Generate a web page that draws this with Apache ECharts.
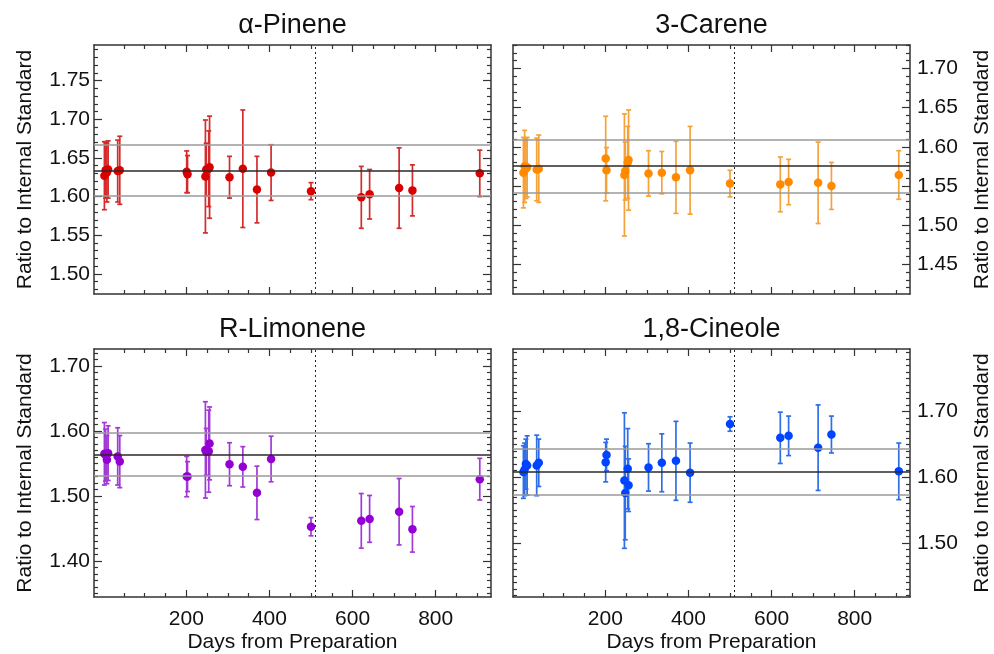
<!DOCTYPE html>
<html><head><meta charset="utf-8">
<script src="https://cdn.jsdelivr.net/npm/echarts@6/dist/echarts.min.js"></script>
<style>html,body{margin:0;padding:0;background:#fff}#c{width:994px;height:654px}</style>
</head><body><div id="c"></div>
<script>
// ---- data (days from preparation, shared by all compounds) ----
const days = [3, 6, 9, 12, 35, 40, 201, 203, 246, 248, 254, 256, 304, 336, 370, 404, 500, 621, 641, 712, 744, 906];

const pineneVal = [1.627, 1.634, 1.631, 1.635, 1.633, 1.634, 1.632, 1.629, 1.626, 1.635, 1.636, 1.638, 1.625, 1.636, 1.609, 1.631, 1.607, 1.599, 1.603, 1.611, 1.608, 1.630];
const pineneErr = [0.044, 0.036, 0.038, 0.037, 0.040, 0.044, 0.027, 0.024, 0.073, 0.034, 0.049, 0.066, 0.027, 0.076, 0.043, 0.036, 0.011, 0.040, 0.032, 0.052, 0.033, 0.030];

const careneVal = [1.567, 1.575, 1.572, 1.574, 1.571, 1.572, 1.585, 1.570, 1.564, 1.569, 1.580, 1.583, 1.566, 1.567, 1.561, 1.570, 1.553, 1.552, 1.555, 1.554, 1.550, 1.564];
const careneErr = [0.045, 0.046, 0.038, 0.038, 0.040, 0.043, 0.054, 0.029, 0.078, 0.037, 0.046, 0.064, 0.029, 0.027, 0.046, 0.056, 0.017, 0.035, 0.029, 0.052, 0.030, 0.031];

const limoneneVal = [1.565, 1.563, 1.556, 1.566, 1.561, 1.553, 1.530, 1.530, 1.571, 1.568, 1.569, 1.581, 1.549, 1.545, 1.505, 1.557, 1.453, 1.462, 1.465, 1.476, 1.449, 1.526];
const limoneneErr = [0.048, 0.040, 0.037, 0.042, 0.044, 0.040, 0.031, 0.023, 0.074, 0.036, 0.063, 0.056, 0.033, 0.031, 0.041, 0.035, 0.014, 0.042, 0.036, 0.051, 0.035, 0.032];

const cineoleVal = [1.608, 1.612, 1.620, 1.618, 1.618, 1.622, 1.623, 1.634, 1.595, 1.576, 1.613, 1.588, 1.615, 1.622, 1.625, 1.607, 1.681, 1.660, 1.663, 1.645, 1.665, 1.609];
const cineoleErr = [0.040, 0.040, 0.038, 0.045, 0.046, 0.036, 0.030, 0.024, 0.103, 0.071, 0.061, 0.040, 0.036, 0.044, 0.060, 0.045, 0.011, 0.039, 0.030, 0.065, 0.028, 0.043];

// mean and +/- band per compound
const means = [1.634, 1.5755, 1.564, 1.608];
const bands = [0.033, 0.034, 0.033, 0.035];
const markerDay = 510;

// tick labels / tick values
const xMajorTicks = [200, 400, 600, 800];
const xMinorTicks = [50, 100, 150, 250, 300, 350, 450, 500, 550, 650, 700, 750, 850, 900];
const yMajorPinene = [1.50, 1.55, 1.60, 1.65, 1.70, 1.75];
const yMajorCarene = [1.45, 1.50, 1.55, 1.60, 1.65, 1.70];
const yMajorLimonene = [1.40, 1.50, 1.60, 1.70];
const yMajorCineole = [1.50, 1.60, 1.70];
const titles = ['\u03b1-Pinene', '3-Carene', 'R-Limonene', '1,8-Cineole'];

// ---- layout / style ----
const FONT = "'Liberation Sans', Arial, Helvetica, sans-serif";
const TXT = '#111';
const AX = '#333';
const panels = [
  {val: pineneVal, err: pineneErr, yMin: 1.474, yMax: 1.796, yMajor: yMajorPinene, side: 'left', bottom: false, left: 94, top: 45, h: 249, dot: '#d90000', bar: '#d42c2c'},
  {val: careneVal, err: careneErr, yMin: 1.412, yMax: 1.730, yMajor: yMajorCarene, side: 'right', bottom: false, left: 513, top: 45, h: 249, dot: '#ff8a00', bar: '#f5a23a'},
  {val: limoneneVal, err: limoneneErr, yMin: 1.345, yMax: 1.726, yMajor: yMajorLimonene, side: 'left', bottom: true, left: 94, top: 349, h: 248, dot: '#9400d3', bar: '#a23ad6'},
  {val: cineoleVal, err: cineoleErr, yMin: 1.418, yMax: 1.795, yMajor: yMajorCineole, side: 'right', bottom: true, left: 513, top: 349, h: 248, dot: '#0044ff', bar: '#2f6ee6'}
];
const W = 397;
const X_MIN = -22, X_MAX = 933;

function minorVals(min, max, step, majors) {
  const out = [];
  for (let k = Math.ceil(min / step - 1e-9); k * step <= max + 1e-9; k++) {
    const v = +(k * step).toFixed(4);
    if (!majors.some(m => Math.abs(m - v) < 1e-6)) out.push(v);
  }
  return out;
}

const grid = [], xAxis = [], yAxis = [], series = [], title = [];
panels.forEach((p, gi) => {
  grid.push({left: p.left, top: p.top, width: W, height: p.h, containLabel: false});
  title.push({text: titles[gi], left: p.left + W / 2, top: p.top - 33, textAlign: 'center', padding: 0,
    textStyle: {fontFamily: FONT, fontSize: 27, fontWeight: 'normal', color: TXT}});
  const lineStyle = {color: AX, width: 1.5};
  const tickStyle = {color: AX, width: 1.2};
  const baseX = {type: 'value', gridIndex: gi, min: X_MIN, max: X_MAX, splitLine: {show: false}};
  // bottom major
  xAxis.push(Object.assign({}, baseX, {position: 'bottom',
    axisLine: {show: true, onZero: false, lineStyle},
    axisTick: {show: true, inside: true, length: 7, customValues: xMajorTicks, lineStyle: tickStyle},
    axisLabel: {show: p.bottom, customValues: xMajorTicks, fontFamily: FONT, fontSize: 21, color: TXT, margin: 12},
    name: p.bottom ? 'Days from Preparation' : '', nameLocation: 'middle', nameGap: 35,
    nameTextStyle: {fontFamily: FONT, fontSize: 21, color: TXT}}));
  // bottom minor
  xAxis.push(Object.assign({}, baseX, {position: 'bottom', axisLine: {show: false, onZero: false},
    axisTick: {show: true, inside: true, length: 4, customValues: xMinorTicks, lineStyle: tickStyle},
    axisLabel: {show: false}}));
  // top major
  xAxis.push(Object.assign({}, baseX, {position: 'top', axisLine: {show: true, onZero: false, lineStyle},
    axisTick: {show: true, inside: true, length: 7, customValues: xMajorTicks, lineStyle: tickStyle},
    axisLabel: {show: false}}));
  // top minor
  xAxis.push(Object.assign({}, baseX, {position: 'top', axisLine: {show: false, onZero: false},
    axisTick: {show: true, inside: true, length: 4, customValues: xMinorTicks, lineStyle: tickStyle},
    axisLabel: {show: false}}));

  const yMinor = minorVals(p.yMin, p.yMax, 0.01, p.yMajor);
  const baseY = {type: 'value', gridIndex: gi, min: p.yMin, max: p.yMax, splitLine: {show: false}};
  ['left', 'right'].forEach(pos => {
    const isLab = pos === p.side;
    yAxis.push(Object.assign({}, baseY, {position: pos,
      axisLine: {show: true, onZero: false, lineStyle},
      axisTick: {show: true, inside: true, length: 8, customValues: p.yMajor, lineStyle: tickStyle},
      axisLabel: {show: isLab, customValues: p.yMajor, formatter: v => (+v).toFixed(2),
        fontFamily: FONT, fontSize: 21, color: TXT, margin: pos === 'left' ? 4 : 7},
      name: isLab ? 'Ratio to Internal Standard' : '', nameLocation: 'middle', nameRotate: 90,
      nameGap: pos === 'left' ? 58 : 62,
      nameTextStyle: {fontFamily: FONT, fontSize: 21, color: TXT}}));
    yAxis.push(Object.assign({}, baseY, {position: pos, axisLine: {show: false, onZero: false},
      axisTick: {show: true, inside: true, length: 4, customValues: yMinor, lineStyle: tickStyle},
      axisLabel: {show: false}}));
  });
  const xi = gi * 4, yi = gi * 4;
  // reference lines
  series.push({type: 'scatter', xAxisIndex: xi, yAxisIndex: yi, z: 1, silent: true, symbolSize: 0,
    data: [[days[0], means[gi]]],
    markLine: {silent: true, precision: 6, symbol: ['none', 'none'], label: {show: false}, animation: false,
      emphasis: {disabled: true},
      data: [
        {yAxis: means[gi] + bands[gi], lineStyle: {color: '#9a9a9a', width: 1.5, type: 'solid'}},
        {yAxis: means[gi] - bands[gi], lineStyle: {color: '#9a9a9a', width: 1.5, type: 'solid'}},
        {yAxis: means[gi], lineStyle: {color: '#2a2a2a', width: 1.5, type: 'solid'}},
        {xAxis: markerDay, lineStyle: {color: '#222', width: 1, type: [2, 3]}}
      ]}});
  // error bars
  const col = p.bar;
  series.push({type: 'custom', xAxisIndex: xi, yAxisIndex: yi, z: 2, silent: true,
    data: days.map((d, i) => [d, p.val[i] - p.err[i], p.val[i] + p.err[i]]),
    renderItem: (params, api) => {
      const lo = api.coord([api.value(0), api.value(1)]);
      const hi = api.coord([api.value(0), api.value(2)]);
      const c = 2.5;
      const st = {stroke: col, lineWidth: 1.7};
      return {type: 'group', children: [
        {type: 'line', shape: {x1: lo[0], y1: lo[1], x2: hi[0], y2: hi[1]}, style: st},
        {type: 'line', shape: {x1: lo[0] - c, y1: lo[1], x2: lo[0] + c, y2: lo[1]}, style: st},
        {type: 'line', shape: {x1: hi[0] - c, y1: hi[1], x2: hi[0] + c, y2: hi[1]}, style: st}
      ]};
    }});
  // points
  series.push({type: 'scatter', xAxisIndex: xi, yAxisIndex: yi, z: 3, symbol: 'circle', symbolSize: 8.5,
    itemStyle: {color: p.dot, opacity: 1},
    data: days.map((d, i) => [d, p.val[i]])});
});

const chart = echarts.init(document.getElementById('c'), null, {renderer: 'canvas'});
chart.setOption({animation: false, backgroundColor: '#fff', title, grid, xAxis, yAxis, series});
</script>
</body></html>
